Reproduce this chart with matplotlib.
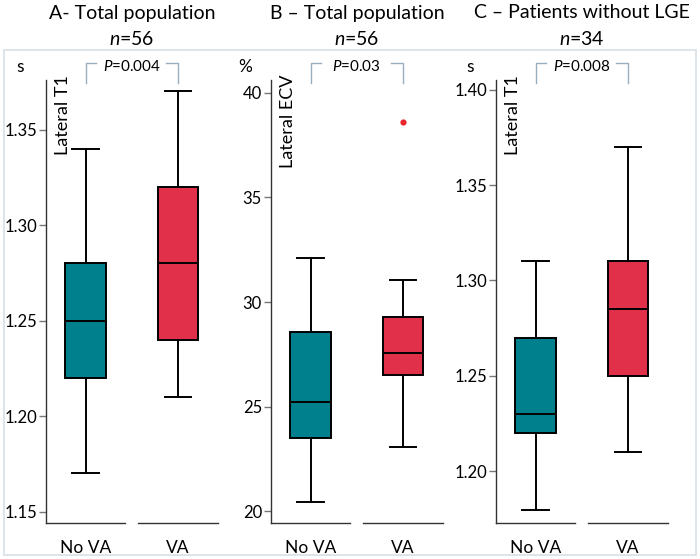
import matplotlib
matplotlib.use("Agg")
import matplotlib.pyplot as plt
from matplotlib.patches import Rectangle

plt.rcParams["font.family"] = ["Lato", "DejaVu Sans"]
plt.rcParams["mathtext.fontset"] = "custom"
plt.rcParams["mathtext.rm"] = "Lato"
plt.rcParams["mathtext.it"] = "Lato:italic"

# ---- data ----
groups = ["No VA", "VA"]
panel_titles = ["A- Total population", "B \u2013 Total population", "C \u2013 Patients without LGE"]
panel_n = [56, 56, 34]
units = ["s", "%", "s"]
ylabels = ["Lateral T1", "Lateral ECV", "Lateral T1"]
p_values = ["0.004", "0.03", "0.008"]

# five-number summaries: [whisker low, Q1, median, Q3, whisker high]
a_no_va = [1.17, 1.22, 1.25, 1.28, 1.34]
a_va = [1.21, 1.24, 1.28, 1.32, 1.37]
b_no_va = [20.45, 23.5, 25.25, 28.55, 32.1]
b_va = [23.1, 26.5, 27.55, 29.3, 31.05]
b_va_outliers = [38.6]
c_no_va = [1.18, 1.22, 1.23, 1.27, 1.31]
c_va = [1.21, 1.25, 1.285, 1.31, 1.37]

a_ticks = [1.15, 1.20, 1.25, 1.30, 1.35]
b_ticks = [20, 25, 30, 35, 40]
c_ticks = [1.20, 1.25, 1.30, 1.35, 1.40]

panels = [
    (a_no_va, a_va, [], a_ticks, "{:.2f}", (1.144, 1.376)),
    (b_no_va, b_va, b_va_outliers, b_ticks, "{:d}", (19.45, 40.6)),
    (c_no_va, c_va, [], c_ticks, "{:.2f}", (1.173, 1.405)),
]

TEAL = "#00808c"
RED = "#e0304a"
BRACKET = "#9aaebf"

W, H = 700, 559
fig = plt.figure(figsize=(W / 100, H / 100), dpi=100)

# light frame around the three panels
fig.patches.append(Rectangle((4 / W, 4 / H), 692 / W, 505 / H, transform=fig.transFigure,
                             fill=False, edgecolor="#dae3e8", lw=1.3))

ax_lefts = [46, 271, 496]
ax_w, ax_bottom, ax_top = 172, 523, 80

for i, (no_va, va, outl, ticks, fmt, ylim) in enumerate(panels):
    left = ax_lefts[i]
    ax = fig.add_axes([left / W, (H - ax_bottom) / H, ax_w / W, (ax_bottom - ax_top) / H])

    stats = []
    for vals, fl in [(no_va, []), (va, outl)]:
        stats.append({"whislo": vals[0], "q1": vals[1], "med": vals[2],
                      "q3": vals[3], "whishi": vals[4], "fliers": fl})
    bp = ax.bxp(stats, positions=[0, 1], widths=0.44, patch_artist=True,
                showfliers=True,
                boxprops=dict(edgecolor="black", linewidth=1.4),
                medianprops=dict(color="black", linewidth=1.4),
                whiskerprops=dict(color="black", linewidth=1.4),
                capprops=dict(color="black", linewidth=1.4),
                capwidths=0.29,
                flierprops=dict(marker="o", markersize=4.5, markerfacecolor="#e8282e",
                                markeredgecolor="none"))
    for patch, col in zip(bp["boxes"], [TEAL, RED]):
        patch.set_facecolor(col)

    ax.set_xlim(-0.427, 1.432)
    ax.set_ylim(*ylim)
    ax.set_yticks(ticks)
    ax.set_yticklabels([fmt.format(t) for t in ticks])
    ax.set_xticks([0, 1])
    ax.set_xticklabels(groups)

    for side in ["top", "right", "bottom"]:
        ax.spines[side].set_visible(False)
    ax.spines["left"].set_color("#333333")
    ax.spines["left"].set_linewidth(1.0)
    ax.tick_params(axis="y", length=5, width=1, color="#777777", labelsize=12, pad=1.5)
    ax.tick_params(axis="x", length=0, labelsize=12.5, pad=12)

    # broken x baseline, one segment per group
    xt = ax.get_xaxis_transform()
    ax.plot([-0.427, 0.427], [0, 0], color="#333333", lw=1.0, transform=xt, clip_on=False)
    ax.plot([0.567, 1.432], [0, 0], color="#333333", lw=1.0, transform=xt, clip_on=False)

    # vertical measure label inside the axes
    ax.text(0.1, 1.012, ylabels[i], rotation=90, ha="center", va="top",
            fontsize=13, transform=ax.transAxes)

    # unit above the axis
    ax.text(-0.15, 1.03, units[i], ha="center", va="center", fontsize=12.5,
            transform=ax.transAxes)

    # p-value bracket
    y_hi, y_lo = 1.038, 0.993
    ax.plot([0, 0, 0.11], [y_lo, y_hi, y_hi], color=BRACKET, lw=1.0, transform=xt, clip_on=False)
    ax.plot([0.87, 1, 1], [y_hi, y_hi, y_lo], color=BRACKET, lw=1.0, transform=xt, clip_on=False)
    ax.text(0.5, 1.03, "$P$=" + p_values[i], ha="center", va="center", fontsize=11,
            transform=xt)

    # titles
    cx = (left + ax_w / 2) / W
    fig.text(cx, 1 - 13 / H, panel_titles[i], ha="center", va="center", fontsize=14)
    fig.text(cx, 1 - 39 / H, "$n$=" + str(panel_n[i]), ha="center", va="center", fontsize=14)

fig.savefig("out.png", dpi=100)
